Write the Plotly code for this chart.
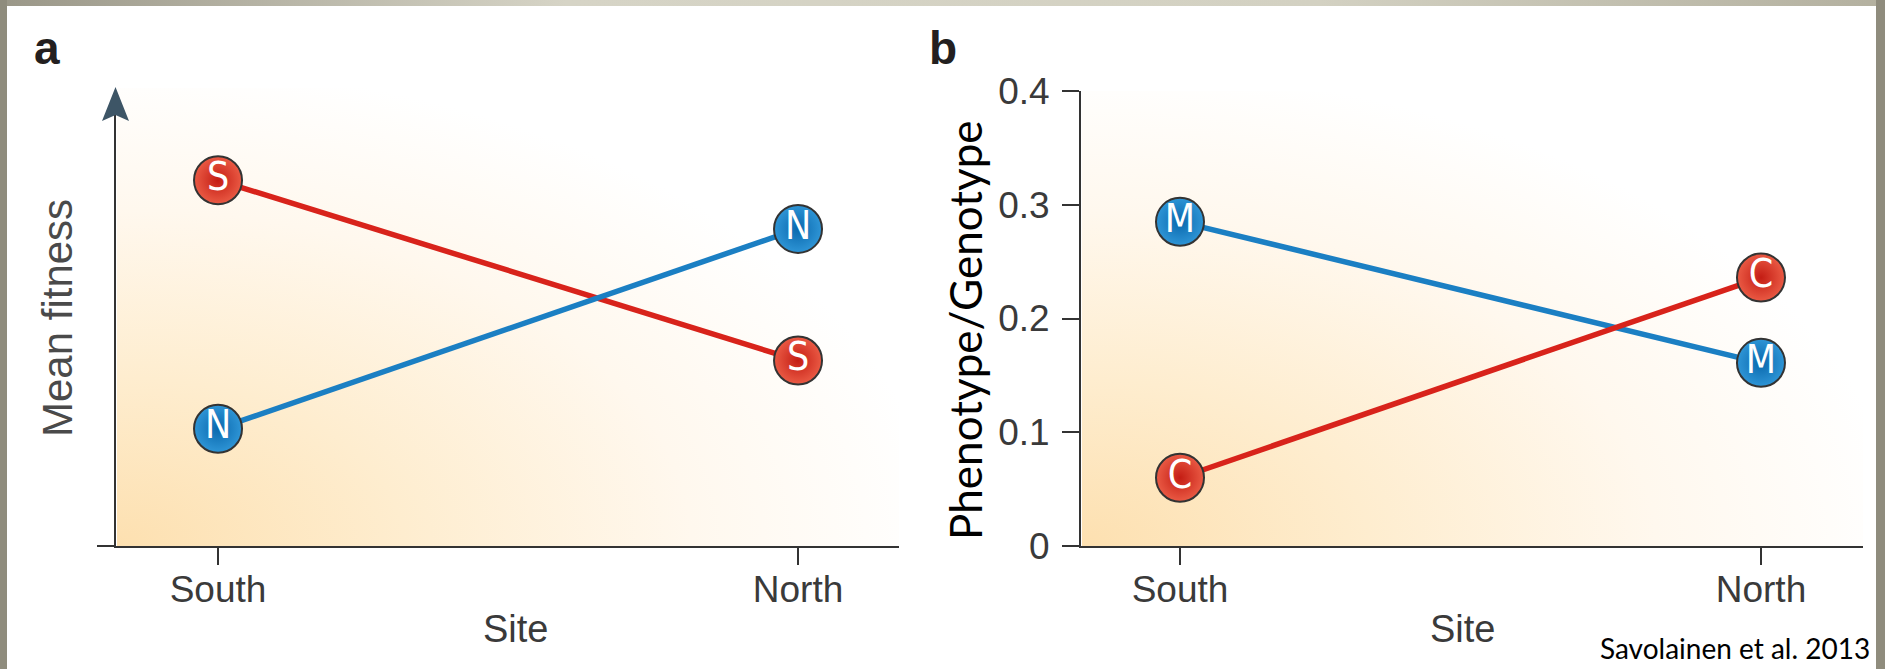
import base64
import plotly.graph_objects as go

W, H = 1885, 669

# ---------------- data ----------------
sites = ["South", "North"]
# panel a (arbitrary fitness units)
fit_S = [0.82, 0.416]   # southern genotype
fit_N = [0.263, 0.711]  # northern genotype
# panel b
pg_M = [0.285, 0.161]
pg_C = [0.060, 0.236]
yb_ticks = [0, 0.1, 0.2, 0.3, 0.4]
yb_ticktext = ["0", "0.1", "0.2", "0.3", "0.4"]

RED_LINE = "#d8231b"
BLUE_LINE = "#1b7fc3"
AX = "#333333"
TICKFONT = dict(family="Liberation Sans, Arial, sans-serif", size=37, color="#3a3a3a")
LETTERFONT = dict(family="Liberation Sans Narrow, DejaVu Sans Condensed, Liberation Sans, sans-serif",
                  size=39, color="white")


def px(x):
    return x / W


def py(y):
    return 1 - y / H


def svg_uri(svg):
    return "data:image/svg+xml;base64," + base64.b64encode(svg.encode()).decode()


grad_svg = (
    "<svg xmlns='http://www.w3.org/2000/svg' width='100' height='100' viewBox='0 0 100 100' "
    "preserveAspectRatio='none'><defs><radialGradient id='g' cx='0' cy='1' r='1.05' "
    "gradientUnits='objectBoundingBox'>"
    "<stop offset='0' stop-color='#fde0b0'/>"
    "<stop offset='0.35' stop-color='#feedcf'/>"
    "<stop offset='0.7' stop-color='#fff8ee'/>"
    "<stop offset='1' stop-color='#ffffff'/>"
    "</radialGradient></defs><rect width='100' height='100' fill='url(#g)'/></svg>"
)
top_svg = (
    "<svg xmlns='http://www.w3.org/2000/svg' width='100' height='10' viewBox='0 0 100 10' "
    "preserveAspectRatio='none'><defs><linearGradient id='t' x1='0' y1='0' x2='1' y2='0'>"
    "<stop offset='0' stop-color='#9a9788'/>"
    "<stop offset='0.3' stop-color='#d6d4c6'/>"
    "<stop offset='0.7' stop-color='#d3d1c2'/>"
    "<stop offset='1' stop-color='#b3b09f'/>"
    "</linearGradient></defs><rect width='100' height='10' fill='url(#t)'/></svg>"
)

fig = go.Figure()


def add_series(x, y, xa, ya, color, c_center, c_edge, letter):
    fig.add_trace(go.Scatter(
        x=x, y=y, xaxis=xa, yaxis=ya,
        mode="lines+markers+text",
        text=[letter] * len(x), textposition="middle center",
        textfont=LETTERFONT,
        line=dict(color=color, width=5.5),
        marker=dict(size=48, color=c_center,
                    gradient=dict(type="radial", color=c_edge),
                    line=dict(color="#333333", width=2)),
        cliponaxis=False, showlegend=False, hoverinfo="skip",
    ))


add_series(sites, fit_S, "x", "y", RED_LINE, "#ea5a44", "#c41d14", "S")
add_series(sites, fit_N, "x", "y", BLUE_LINE, "#2e95d6", "#0a68ad", "N")
add_series(sites, pg_M, "x2", "y2", BLUE_LINE, "#2e95d6", "#0a68ad", "M")
add_series(sites, pg_C, "x2", "y2", RED_LINE, "#ea5a44", "#c41d14", "C")

common_x = dict(
    type="category", categoryorder="array", categoryarray=sites,
    showline=True, linecolor=AX, linewidth=2,
    ticks="outside", ticklen=17, tickwidth=2, tickcolor=AX,
    tickfont=TICKFONT, showgrid=False, zeroline=False, fixedrange=True,
    ticklabelstandoff=-7, automargin=False,
)


def ann(text, x, y, font, **kw):
    d = dict(text=text, x=px(x), y=py(y), xref="paper", yref="paper",
             xanchor="center", yanchor="middle", showarrow=False, font=font)
    d.update(kw)
    return d


fig.update_layout(
    width=W, height=H, autosize=False,
    margin=dict(l=0, r=0, t=0, b=0, pad=0, autoexpand=False),
    paper_bgcolor="white", plot_bgcolor="rgba(0,0,0,0)",
    xaxis=dict(common_x, domain=[px(116), px(899)], range=[-0.1759, 1.1741], anchor="y"),
    yaxis=dict(domain=[py(546), py(100)], range=[0, 1], anchor="x",
               showline=True, linecolor=AX, linewidth=2,
               tickvals=[0], ticktext=[""], ticks="outside", ticklen=17,
               tickwidth=2, tickcolor=AX, showgrid=False, zeroline=False, automargin=False),
    xaxis2=dict(common_x, domain=[px(1081), px(1863)], range=[-0.1704, 1.1756], anchor="y2"),
    yaxis2=dict(domain=[py(546), py(91)], range=[0, 0.4], anchor="x2",
                showline=True, linecolor=AX, linewidth=2,
                tickvals=yb_ticks, ticktext=yb_ticktext, ticks="outside", ticklen=17,
                tickwidth=2, tickcolor=AX, tickfont=TICKFONT, ticklabelstandoff=5,
                showgrid=False, zeroline=False, automargin=False),
    images=[
        dict(source=svg_uri(grad_svg), xref="paper", yref="paper",
             x=px(117), y=py(88), sizex=px(899) - px(117), sizey=(546 - 88) / H,
             xanchor="left", yanchor="top", sizing="stretch", layer="below"),
        dict(source=svg_uri(grad_svg), xref="paper", yref="paper",
             x=px(1082), y=py(91), sizex=px(1863) - px(1082), sizey=(546 - 91) / H,
             xanchor="left", yanchor="top", sizing="stretch", layer="below"),
        dict(source=svg_uri(top_svg), xref="paper", yref="paper",
             x=0, y=1, sizex=1, sizey=6 / H,
             xanchor="left", yanchor="top", sizing="stretch", layer="above"),
    ],
    shapes=[
        dict(type="rect", xref="paper", yref="paper", x0=0, x1=px(7), y0=0, y1=1,
             fillcolor="#8f8c7d", line=dict(width=0), layer="above"),
        dict(type="rect", xref="paper", yref="paper", x0=px(1876), x1=1, y0=0, y1=1,
             fillcolor="#8f8c7d", line=dict(width=0), layer="above"),
        # arrow head on the y axis of panel a
        dict(type="path", xref="paper", yref="paper",
             path=(f"M {px(102)},{py(121)} L {px(115.5)},{py(87)} L {px(129)},{py(121)} "
                   f"L {px(115.5)},{py(115)} Z"),
             fillcolor="#3d5566", line=dict(width=0), layer="above"),
    ],
    annotations=[
        ann("<b>a</b>", 47, 48, dict(family="Liberation Sans, Arial", size=46, color="#231f20")),
        ann("<b>b</b>", 943, 48, dict(family="Liberation Sans, Arial", size=46, color="#231f20")),
        ann("Mean fitness", 57, 318, dict(family="Liberation Sans, Arial", size=42, color="#4a4a4a"),
            textangle=-90),
        ann("Phenotype/Genotype", 965, 330, dict(family="Lato, Open Sans, sans-serif", size=44,
                                                 color="black"), textangle=-90),
        ann("Site", 515, 629, dict(family="Liberation Sans, Arial", size=38, color="#3a3a3a")),
        ann("Site", 1462, 629, dict(family="Liberation Sans, Arial", size=38, color="#3a3a3a")),
        ann("Savolainen et al. 2013", 1872, 648,
            dict(family="Lato, Open Sans, sans-serif", size=28, color="black"), xanchor="right"),
    ],
)

fig.write_html("out.html")
